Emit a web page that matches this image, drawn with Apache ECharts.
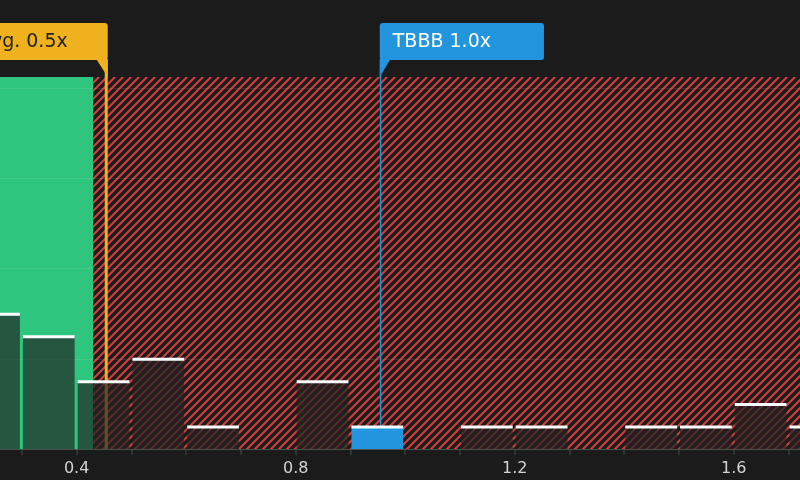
<!DOCTYPE html>
<html lang="en">
<head>
    <meta charset="UTF-8">
    <title>Valuation histogram</title>
    <script type="text/javascript" src="https://cdn.jsdelivr.net/npm/echarts@6/dist/echarts.min.js"></script>
    <style>
        html, body { margin: 0; padding: 0; background: #1b1b1b; }
        #chart { width: 800px; height: 480px; }
    </style>
</head>
<body>
<div id="chart"></div>
<script type="text/javascript">

    // histogram bins (start of bin) and how many companies fall in each
    var binStarts = [0.2, 0.3, 0.4, 0.5, 0.6, 0.7, 0.8, 0.9, 1.0, 1.1, 1.2, 1.3, 1.4, 1.5, 1.6, 1.7];
    var binCounts = [6, 5, 3, 4, 1, 0, 3, 1, 0, 1, 1, 0, 1, 1, 2, 1];
    var binWidth = 0.1;
    var companyBin = 0.9;

    // green (good value) and red hatched zones
    var zoneStarts = [0, 0.43];
    var zoneEnds = [0.43, 2.0];

    // marker lines
    var markerValues = [0.454, 0.955];
    var markerTexts = ['Industry Avg. 0.5x', 'TBBB 1.0x'];

    // axes (the picture only shows part of the x range)
    var xMin = 0.26, xMax = 1.721;
    var xTicks = [0.3, 0.4, 0.5, 0.6, 0.7, 0.8, 0.9, 1.0, 1.1, 1.2, 1.3, 1.4, 1.5, 1.6, 1.7];
    var xLabels = [0.4, 0.8, 1.2, 1.6];
    var yMin = 0, yMax = 16.5, yStep = 4;

    var font = 'DejaVu Sans';

    function hatch() {
        var c = document.createElement('canvas');
        c.width = 8;
        c.height = 8;
        var ctx = c.getContext('2d');
        ctx.fillStyle = '#1b1b1b';
        ctx.fillRect(0, 0, 8, 8);
        ctx.strokeStyle = '#d03e3e';
        ctx.lineWidth = 2.1;
        ctx.beginPath();
        ctx.moveTo(-1, 1); ctx.lineTo(1, -1);
        ctx.moveTo(0, 8); ctx.lineTo(8, 0);
        ctx.moveTo(7, 9); ctx.lineTo(9, 7);
        ctx.stroke();
        return c;
    }

    var myChart = echarts.init(document.getElementById('chart'));

    var zoneFills = ['#2ec57e', {image: hatch(), repeat: 'repeat'}];
    var markerColors = ['#efb21e', '#2394de'];
    var markerTextColors = ['#1e1e1e', '#ffffff'];
    var markerLineWidths = [3, 1.5];

    var option = {
        backgroundColor: '#1b1b1b',
        animation: false,
        grid: {
            left: 0,
            right: 0,
            top: 77,
            bottom: 31
        },
        xAxis: {
            type: 'value',
            min: xMin,
            max: xMax,
            axisLine: {lineStyle: {color: '#34403c', width: 2}},
            axisTick: {show: true, length: 6, customValues: xTicks, lineStyle: {color: '#34403c', width: 1.5}},
            axisLabel: {
                customValues: xLabels,
                margin: 12,
                color: '#d4d4d4',
                fontFamily: font,
                fontSize: 16,
                formatter: function (v) {
                    return v.toFixed(1);
                }
            },
            splitLine: {show: false}
        },
        yAxis: {
            type: 'value',
            min: yMin,
            max: yMax,
            interval: yStep,
            z: 2,
            axisLine: {show: false},
            axisTick: {show: false},
            axisLabel: {show: false},
            splitLine: {show: true, showMaxLine: false, lineStyle: {color: 'rgba(255,255,255,0.1)', width: 1}}
        },
        series: [
            {
                // zones
                type: 'custom',
                z: 1,
                silent: true,
                clip: true,
                data: zoneStarts.map(function (s, i) { return [s, zoneEnds[i], i]; }),
                renderItem: function (params, api) {
                    var a = api.coord([api.value(0), yMax]);
                    var b = api.coord([api.value(1), yMin]);
                    return {
                        type: 'rect',
                        shape: {x: a[0], y: a[1], width: b[0] - a[0], height: b[1] - a[1]},
                        style: {fill: zoneFills[api.value(2)]}
                    };
                }
            },
            {
                // marker lines (under the bars)
                type: 'custom',
                z: 3,
                silent: true,
                data: markerValues.map(function (v, i) { return [v, i]; }),
                renderItem: function (params, api) {
                    var i = api.value(1);
                    var p = api.coord([api.value(0), yMin]);
                    return {
                        type: 'line',
                        shape: {x1: p[0], y1: 60, x2: p[0], y2: p[1]},
                        style: {stroke: markerColors[i], lineWidth: markerLineWidths[i]}
                    };
                }
            },
            {
                // histogram bars
                type: 'custom',
                z: 4,
                silent: true,
                data: binStarts.map(function (s, i) { return [s, binCounts[i]]; }),
                renderItem: function (params, api) {
                    var s = api.value(0), n = api.value(1);
                    if (!n) {
                        return;
                    }
                    var p0 = api.coord([s, n]);
                    var p1 = api.coord([s + binWidth, yMin]);
                    var x = p0[0] + 1;
                    var w = p1[0] - p0[0] - 3;
                    var isCo = Math.abs(s - companyBin) < 1e-6;
                    return {
                        type: 'group',
                        children: [
                            {
                                type: 'rect',
                                shape: {x: x, y: p0[1], width: w, height: p1[1] - p0[1]},
                                style: {fill: isCo ? '#2394de' : 'rgba(34,34,34,0.68)'}
                            },
                            {
                                type: 'rect',
                                shape: {x: x, y: p0[1] - 1, width: w, height: 3},
                                style: {fill: '#ffffff'}
                            }
                        ]
                    };
                }
            },
            {
                // marker labels
                type: 'custom',
                z: 5,
                silent: true,
                data: markerValues.map(function (v, i) { return [v, i]; }),
                renderItem: function (params, api) {
                    var i = api.value(1);
                    var lx = api.coord([api.value(0), yMin])[0];
                    var right = i === 0;
                    var edge = right ? lx + 1.5 : lx - 0.8;
                    var bottom = 60;
                    var tail = right
                        ? [[lx - 10, bottom - 1], [edge, bottom - 1], [edge, bottom + 17]]
                        : [[edge, bottom - 1], [lx + 10, bottom - 1], [edge, bottom + 17]];
                    return {
                        type: 'group',
                        children: [
                            {
                                type: 'polygon',
                                shape: {points: tail},
                                style: {fill: markerColors[i]}
                            },
                            {
                                type: 'text',
                                x: edge,
                                y: 23,
                                style: {
                                    text: markerTexts[i],
                                    font: '19px "' + font + '"',
                                    fill: markerTextColors[i],
                                    align: right ? 'right' : 'left',
                                    verticalAlign: 'top',
                                    lineHeight: 22,
                                    backgroundColor: markerColors[i],
                                    borderRadius: 3,
                                    padding: right ? [8, 40, 7, 13] : [8, 53, 7, 13]
                                }
                            }
                        ]
                    };
                }
            }
        ]
    };

    myChart.setOption(option);

</script>
</body>
</html>
